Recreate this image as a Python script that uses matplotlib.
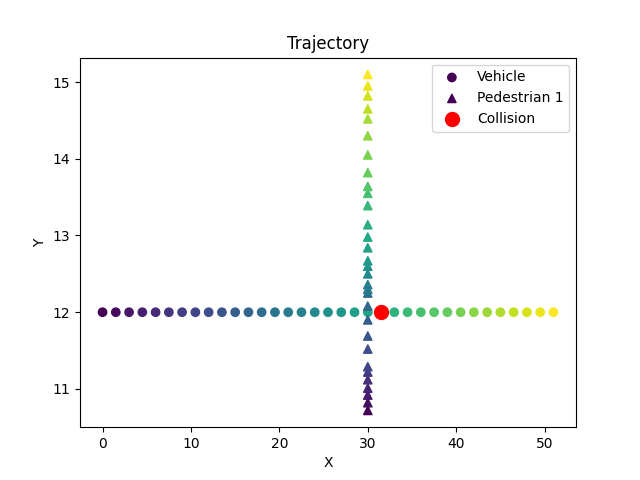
import numpy as np
import matplotlib.pyplot as plt

# vehicle path
veh_x = [0, 1.5, 3, 4.5, 6, 7.5, 9, 10.5, 12, 13.5, 15, 16.5, 18, 19.5, 21, 22.5, 24, 25.5, 27, 28.5,
         30, 31.5, 33, 34.5, 36, 37.5, 39, 40.5, 42, 43.5, 45, 46.5, 48, 49.5, 51]
veh_y = [12] * len(veh_x)

# pedestrian path
ped_y = [10.72, 10.82, 10.92, 11.01, 11.12, 11.22, 11.29, 11.52, 11.69, 11.9, 12.08, 12.25, 12.3,
         12.36, 12.5, 12.6, 12.67, 12.84, 12.98, 13.14, 13.39, 13.55, 13.64, 13.82, 14.05, 14.3,
         14.52, 14.65, 14.82, 14.95, 15.1]
ped_x = [30] * len(ped_y)

collision = (31.5, 12)

fig, ax = plt.subplots(figsize=(6.4, 4.8), dpi=100)
ax.scatter(veh_x, veh_y, c=np.arange(len(veh_x)), cmap='viridis', marker='o', label='Vehicle')
ax.scatter(ped_x, ped_y, c=np.arange(len(ped_y)), cmap='viridis', marker='^', label='Pedestrian 1')
ax.scatter([collision[0]], [collision[1]], color='red', s=100, label='Collision')
ax.set_title('Trajectory')
ax.set_xlabel('X')
ax.set_ylabel('Y')
ax.legend(loc='upper right')
fig.savefig('out.png')
